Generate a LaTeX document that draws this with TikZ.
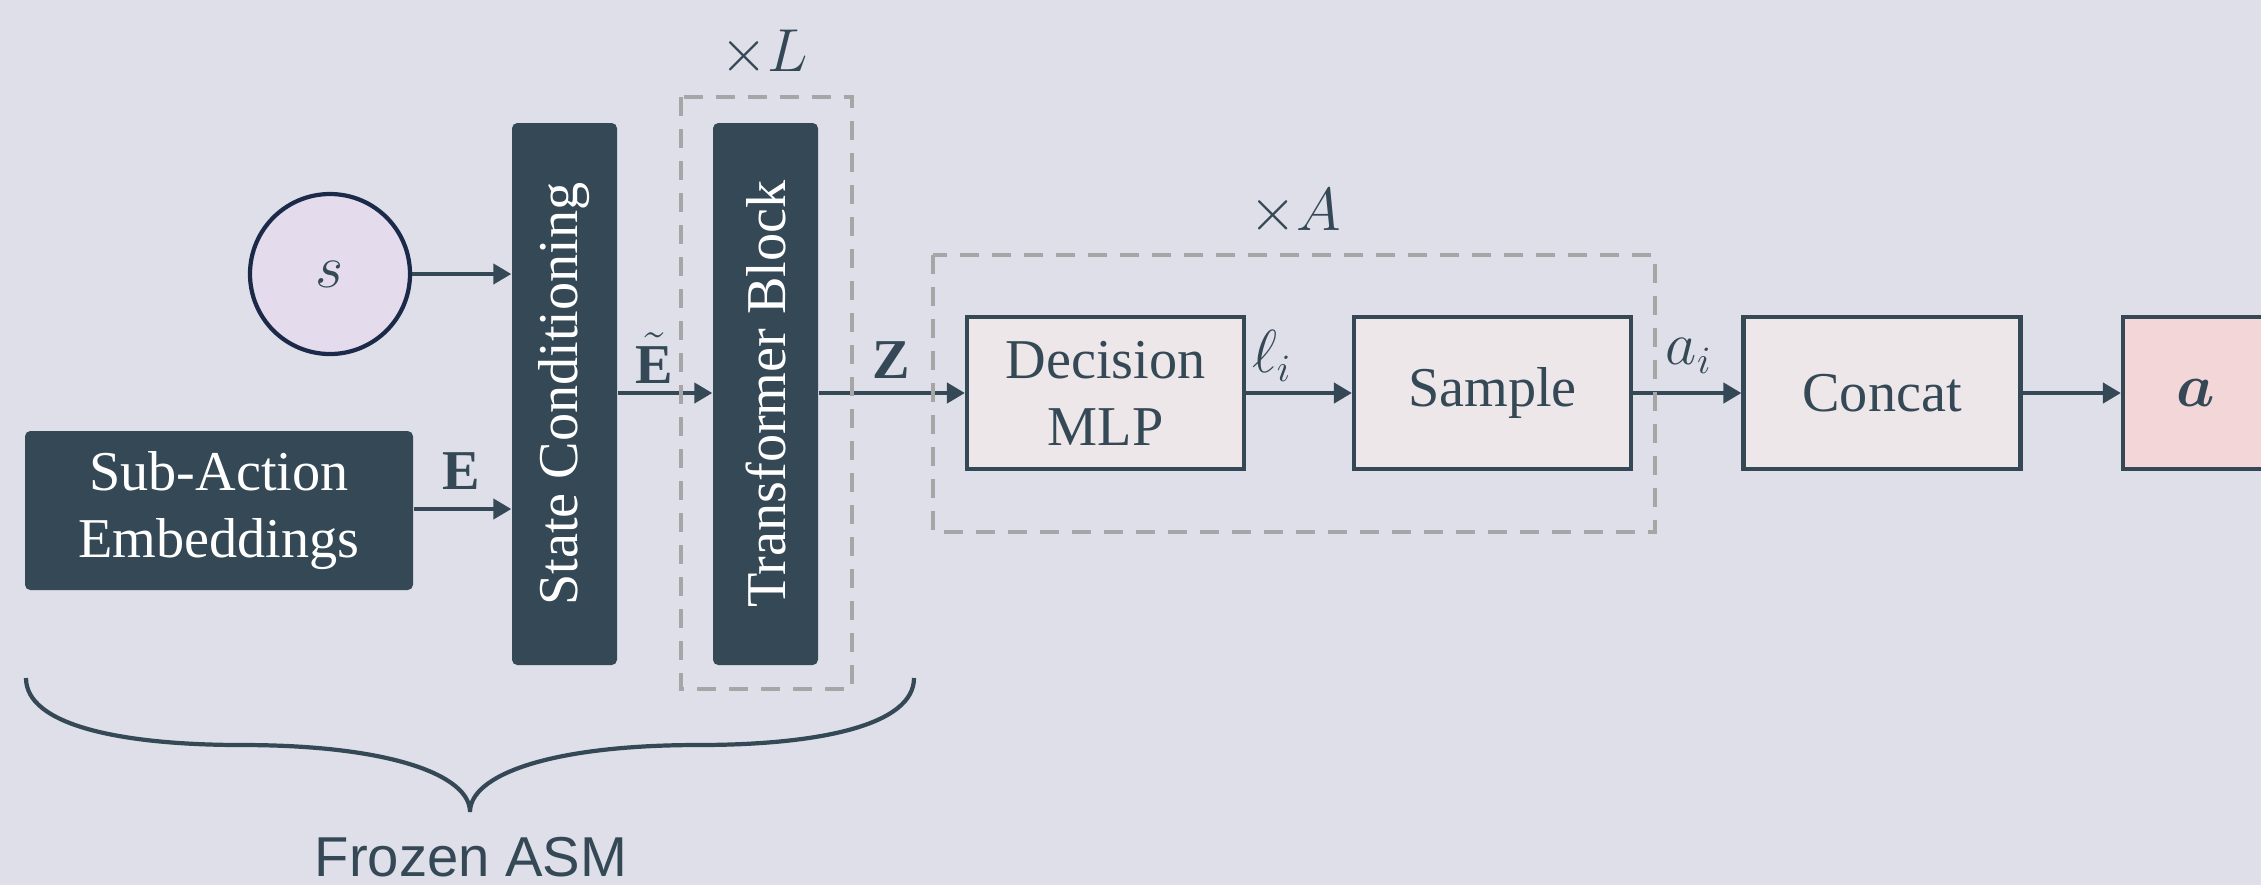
\documentclass[tikz,border=0pt]{standalone}
\usepackage{amsmath}
\usepackage{bm}
\usepackage{fontspec}
\setmainfont{Liberation Serif}
\setsansfont{Liberation Sans}
\usetikzlibrary{arrows.meta,calc}
\definecolor{bg}{HTML}{DFDFEA}
\definecolor{dark}{HTML}{344955}
\definecolor{light}{HTML}{EDE7EA}
\definecolor{circfill}{HTML}{E4DCEC}
\definecolor{circline}{HTML}{1C2A4A}
\definecolor{afill}{HTML}{F3D6D8}
\definecolor{dashc}{HTML}{A6A6A6}
\newcommand{\bigfnt}{\fontsize{16}{19}\selectfont}
\tikzset{
  darkbox/.style={fill=dark, text=white, rounded corners=1.5pt, inner sep=0pt, font=\bigfnt, align=center},
  lightbox/.style={draw=dark, line width=1.2pt, fill=light, text=dark, minimum width=2.77cm, minimum height=1.52cm, inner sep=0pt, align=center, font=\bigfnt},
  arr/.style={draw=dark, line width=1.2pt, -{Triangle[length=0.18cm,width=0.2cm]}},
  dashbox/.style={draw=dashc, line width=1.1pt, dash pattern=on 0.19cm off 0.13cm},
  lbl/.style={text=dark, font=\bigfnt, inner sep=0pt},
}
\begin{document}
\begin{tikzpicture}
\useasboundingbox (0,0) rectangle (22.61,-8.85);
\fill[bg] (0,0) rectangle (22.61,-8.85);
\clip (0,0) rectangle (22.61,-8.85);

% nodes
\node[circle, draw=circline, line width=1.2pt, fill=circfill, minimum size=1.6cm, inner sep=0pt, text=dark, font=\bigfnt] (s) at (3.30,-2.74) {$s$};
\node[darkbox, minimum width=3.88cm, minimum height=1.59cm] (sub) at (2.19,-5.105) {Sub-Action\\Embeddings};
\node[darkbox, rotate=90, minimum width=5.42cm, minimum height=1.05cm] (sc) at (5.645,-3.94) {State Conditioning};
\node[darkbox, rotate=90, minimum width=5.42cm, minimum height=1.05cm] (tb) at (7.655,-3.94) {Transformer Block};
\node[lightbox] (dm) at (11.055,-3.93) {Decision\\MLP};
\node[lightbox] (sa) at (14.925,-3.93) {Sample};
\node[lightbox] (cc) at (18.82,-3.93) {Concat};
\node[lightbox, fill=afill, minimum width=1.46cm] (a) at (21.96,-3.93) {$\bm{a}$};

% arrows (rotated nodes: north = left side, south = right side)
\draw[arr] (s.east) -- (s.east -| sc.north);
\draw[arr] ($(sub.east)+(0,0.015)$) coordinate (ee) -- (ee -| sc.north);
\draw[arr] (sc.south |- dm.west) -- (tb.north |- dm.west);
\draw[arr] (tb.south |- dm.west) -- (dm.west);
\draw[arr] (dm.east) -- (sa.west);
\draw[arr] (sa.east) -- (cc.west);
\draw[arr] (cc.east) -- (a.west);

% labels
\node[lbl] (lE) at (4.61,-4.71) {$\mathbf{E}$};
\node[lbl] (lEt) at (6.54,-3.58) {$\tilde{\mathbf{E}}$};
\node[lbl] (lZ) at (8.91,-3.60) {$\mathbf{Z}$};
\node[lbl] (ll) at (12.72,-3.56) {$\ell_i$};
\node[lbl] (lai) at (16.89,-3.56) {$a_i$};

% dashed groups
\draw[dashbox] (6.81,-0.97) rectangle (8.52,-6.89);
\node[lbl] (xL) at (7.64,-0.53) {$\times L$};
\draw[dashbox] (9.33,-2.55) rectangle (16.55,-5.32);
\node[lbl] (xA) at (12.95,-2.12) {$\times A$};

% brace
\coordinate (bl) at (0.26,-6.78);
\coordinate (br) at (9.14,-6.78);
\coordinate (tip) at (4.70,-8.12);
\draw[dark, line width=1.2pt]
  (bl) .. controls (0.26,-7.25) and (1.2,-7.45) .. (2.42,-7.45)
       .. controls (3.9,-7.45) and (4.70,-7.75) .. (tip)
       .. controls (4.70,-7.75) and (5.5,-7.45) .. (6.98,-7.45)
       .. controls (8.2,-7.45) and (9.14,-7.25) .. (br);
\node[text=dark, font=\sffamily\bigfnt, inner sep=0pt] (frz) at (4.71,-8.57) {Frozen ASM};
\end{tikzpicture}
\end{document}
